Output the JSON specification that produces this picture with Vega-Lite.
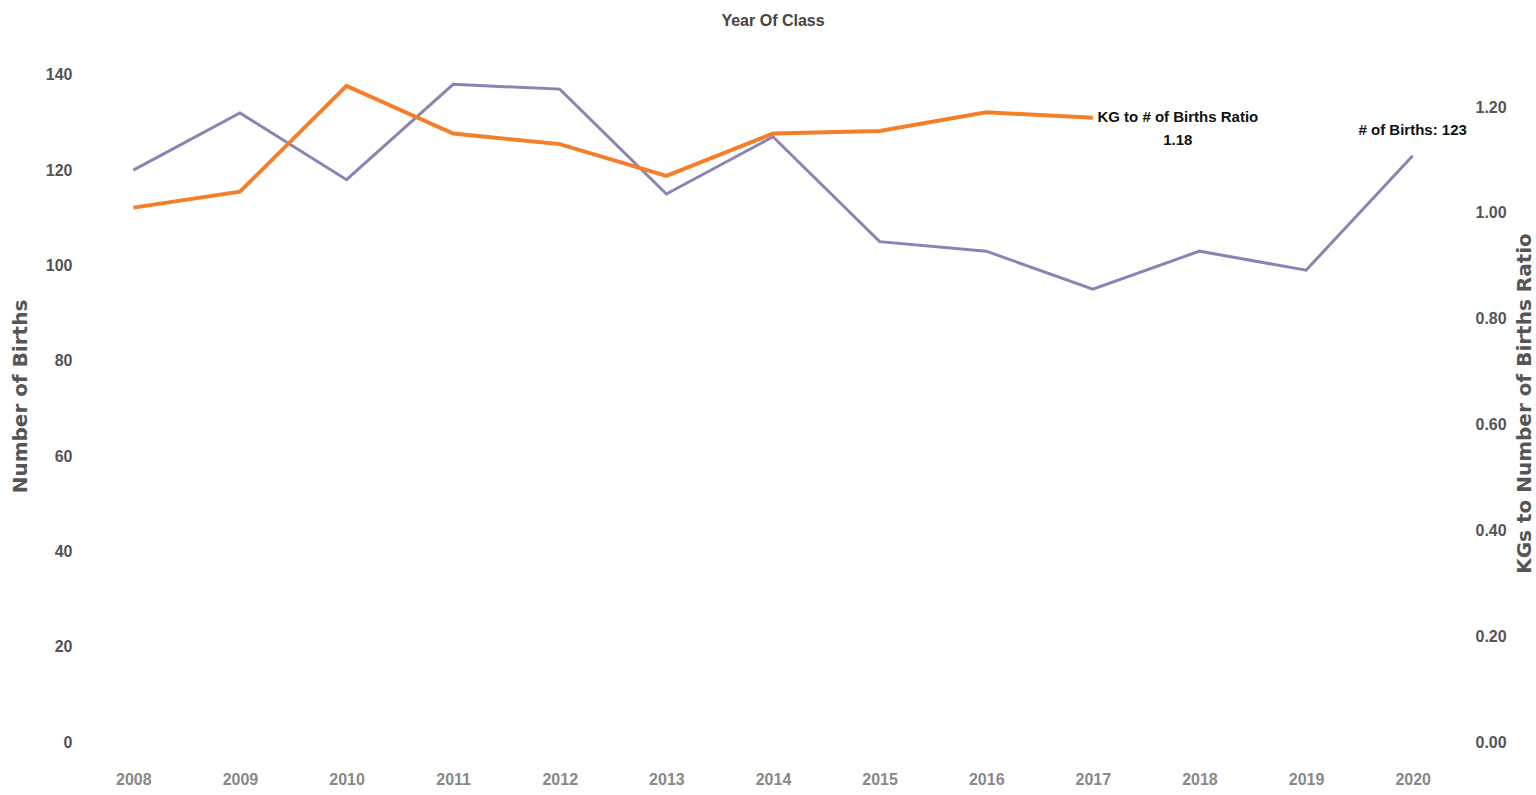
{
  "$schema": "https://vega.github.io/schema/vega-lite/v6.json",
  "width": 1386,
  "height": 691,
  "autosize": {"type": "none"},
  "padding": {"left": 80, "top": 51, "right": 70, "bottom": 53},
  "background": "white",
  "title": {
    "text": "Year Of Class",
    "anchor": "middle",
    "frame": "group",
    "font": "Liberation Sans",
    "fontSize": 16,
    "fontWeight": "bold",
    "color": "#444444",
    "offset": 22
  },
  "config": {
    "view": {"stroke": null},
    "axis": {"grid": false, "domain": false, "ticks": false}
  },
  "data": {
    "values": [
      {"year": 2008, "births": 120, "ratio": 1.01},
      {"year": 2009, "births": 132, "ratio": 1.04},
      {"year": 2010, "births": 118, "ratio": 1.24},
      {"year": 2011, "births": 138, "ratio": 1.15},
      {"year": 2012, "births": 137, "ratio": 1.13},
      {"year": 2013, "births": 115, "ratio": 1.07},
      {"year": 2014, "births": 127, "ratio": 1.15},
      {"year": 2015, "births": 105, "ratio": 1.155},
      {"year": 2016, "births": 103, "ratio": 1.19},
      {"year": 2017, "births": 95, "ratio": 1.18},
      {"year": 2018, "births": 103, "ratio": null},
      {"year": 2019, "births": 99, "ratio": null},
      {"year": 2020, "births": 123, "ratio": null}
    ]
  },
  "encoding": {
    "x": {
      "field": "year",
      "type": "ordinal",
      "scale": {"type": "point", "padding": 0.5},
      "axis": {
        "title": null,
        "labelAngle": 0,
        "labelPadding": 29,
        "labelBaseline": "top",
        "labelFont": "Liberation Sans",
        "labelFontSize": 16,
        "labelFontWeight": "bold",
        "labelColor": "#888888"
      }
    }
  },
  "layer": [
    {
      "encoding": {
        "y": {
          "field": "births",
          "type": "quantitative",
          "scale": {"domain": [0, 145], "nice": false},
          "axis": {
            "orient": "left",
            "title": "Number of Births",
            "values": [0, 20, 40, 60, 80, 100, 120, 140],
            "labelPadding": 8,
            "labelFont": "Liberation Sans",
            "labelFontSize": 16,
            "labelFontWeight": "bold",
            "labelColor": "#555555",
            "titleFont": "DejaVu Sans",
            "titleFontSize": 20,
            "titleFontWeight": "bold",
            "titleColor": "#555555",
            "titleAngle": -90,
            "titleAlign": "center",
            "titleBaseline": "middle",
            "titleX": -60,
            "titleY": 345
          }
        }
      },
      "layer": [
        {"mark": {"type": "line", "color": "#8c83b5", "strokeWidth": 3}},
        {
          "transform": [
            {"filter": "datum.year == 2020"},
            {"calculate": "'# of Births: ' + datum.births", "as": "label"}
          ],
          "mark": {
            "type": "text",
            "align": "center",
            "baseline": "middle",
            "dy": -26,
            "font": "Liberation Sans",
            "fontSize": 15,
            "fontWeight": "bold",
            "color": "#111111"
          },
          "encoding": {"text": {"field": "label", "type": "nominal"}}
        }
      ]
    },
    {
      "transform": [{"filter": "datum.ratio != null"}],
      "encoding": {
        "y": {
          "field": "ratio",
          "type": "quantitative",
          "scale": {"domain": [0, 1.306], "nice": false},
          "axis": {
            "orient": "right",
            "title": "KGs to Number of Births Ratio",
            "values": [0, 0.2, 0.4, 0.6, 0.8, 1.0, 1.2],
            "format": ".2f",
            "labelPadding": 9,
            "labelFont": "Liberation Sans",
            "labelFontSize": 16,
            "labelFontWeight": "bold",
            "labelColor": "#555555",
            "titleFont": "DejaVu Sans",
            "titleFontSize": 20,
            "titleFontWeight": "bold",
            "titleColor": "#555555",
            "titleAngle": -90,
            "titleAlign": "center",
            "titleBaseline": "middle",
            "titleX": 58,
            "titleY": 352
          }
        }
      },
      "layer": [
        {"mark": {"type": "line", "color": "#f57f29", "strokeWidth": 4}},
        {
          "transform": [
            {"filter": "datum.year == 2017"},
            {"calculate": "'KG to # of Births Ratio\\n' + format(datum.ratio, '.2f')", "as": "label"}
          ],
          "mark": {
            "type": "text",
            "align": "center",
            "baseline": "middle",
            "lineBreak": "\n",
            "lineHeight": 23,
            "dx": 85,
            "dy": -1,
            "font": "Liberation Sans",
            "fontSize": 15,
            "fontWeight": "bold",
            "color": "#111111"
          },
          "encoding": {"text": {"field": "label", "type": "nominal"}}
        }
      ]
    }
  ],
  "resolve": {"scale": {"y": "independent"}}
}
